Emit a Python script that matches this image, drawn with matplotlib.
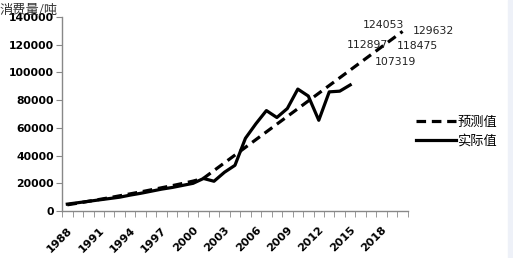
import numpy as np
import matplotlib
matplotlib.use('Agg')
import matplotlib.pyplot as plt
from matplotlib.patches import Rectangle

plt.rcParams['font.family'] = ['DejaVu Sans', 'Noto Sans CJK SC']

years = list(range(1988, 2021))
actual_years = list(range(1988, 2016))
actual = [5000, 6000, 7000, 8000, 9000, 10000, 11500, 12800, 14300, 15800,
          17000, 18500, 20000, 23500, 21500, 28000, 33000, 52500, 63000, 72500,
          67500, 74000, 88000, 83000, 65500, 86000, 86500, 91000]
predicted = [4500, 5700, 7000, 8300, 9600, 11000, 12400, 13800, 15300, 16800,
             18300, 19900, 21600, 23650, 29230, 34800, 40380, 45960, 51540, 57120,
             62700, 68270, 73850, 79430, 85010, 90590, 96160, 101740,
             107319, 112897, 118475, 124053, 129632]
label_years = [2016, 2017, 2018, 2019, 2020]
label_offsets = [(35, 0), (-4, 10), (36, 1), (-9, 14), (31, 0)]  # pixels
tick_years = list(range(1988, 2019, 3))

fig = plt.figure(figsize=(5.13, 2.58), dpi=100)
fig.patches.append(Rectangle((0.99, 0), 0.01, 1, transform=fig.transFigure,
                             color='#eef1f8', zorder=0))
ax = fig.add_axes([0.121, 0.182, 0.674, 0.752])

xp = np.arange(len(years))
xa = np.arange(len(actual_years))
ax.plot(xp, predicted, color='black', lw=2.3, ls=(0, (3, 1.8)), label='预测值')
ax.plot(xa, actual, color='black', lw=2.3, label='实际值')

for yr, (dx, dy) in zip(label_years, label_offsets):
    i = years.index(yr)
    ax.annotate(str(predicted[i]), (xp[i], predicted[i]), xytext=(dx, dy),
                textcoords='offset pixels', ha='center', va='center', fontsize=7.8,
                color='#222222')

ax.set_xlim(-0.5, len(years) - 0.5)
ax.set_ylim(0, 140000)
ax.set_yticks(np.arange(0, 140001, 20000))
ax.set_yticklabels([str(v) for v in range(0, 140001, 20000)], fontsize=7.8,
                   fontweight='bold')
ax.set_xticks([years.index(y) for y in tick_years])
ax.set_xticklabels([str(y) for y in tick_years], rotation=45, ha='right',
                   rotation_mode='anchor', fontsize=8, fontweight='bold')
ax.set_xticks(np.arange(-0.5, len(years), 1), minor=True)
ax.tick_params(axis='x', which='major', length=0, pad=10)
ax.tick_params(axis='x', which='minor', length=4, color='#888888')
ax.tick_params(axis='y', length=4, color='#888888', pad=2)

for s in ['top', 'right']:
    ax.spines[s].set_visible(False)
for s in ['left', 'bottom']:
    ax.spines[s].set_color('#888888')
    ax.spines[s].set_linewidth(1.0)

fig.text(0.0, 0.958, '消费量/吨', fontsize=9.5, family=['Noto Sans CJK SC'],
         color='#333333', va='center')

leg = ax.legend(loc='center left', bbox_to_anchor=(0.99, 0.41), frameon=False,
                handlelength=3.0, handletextpad=0.1, labelspacing=0.45,
                prop={'family': 'Noto Sans CJK SC', 'size': 9.5})

fig.savefig('out.png', dpi=100)
